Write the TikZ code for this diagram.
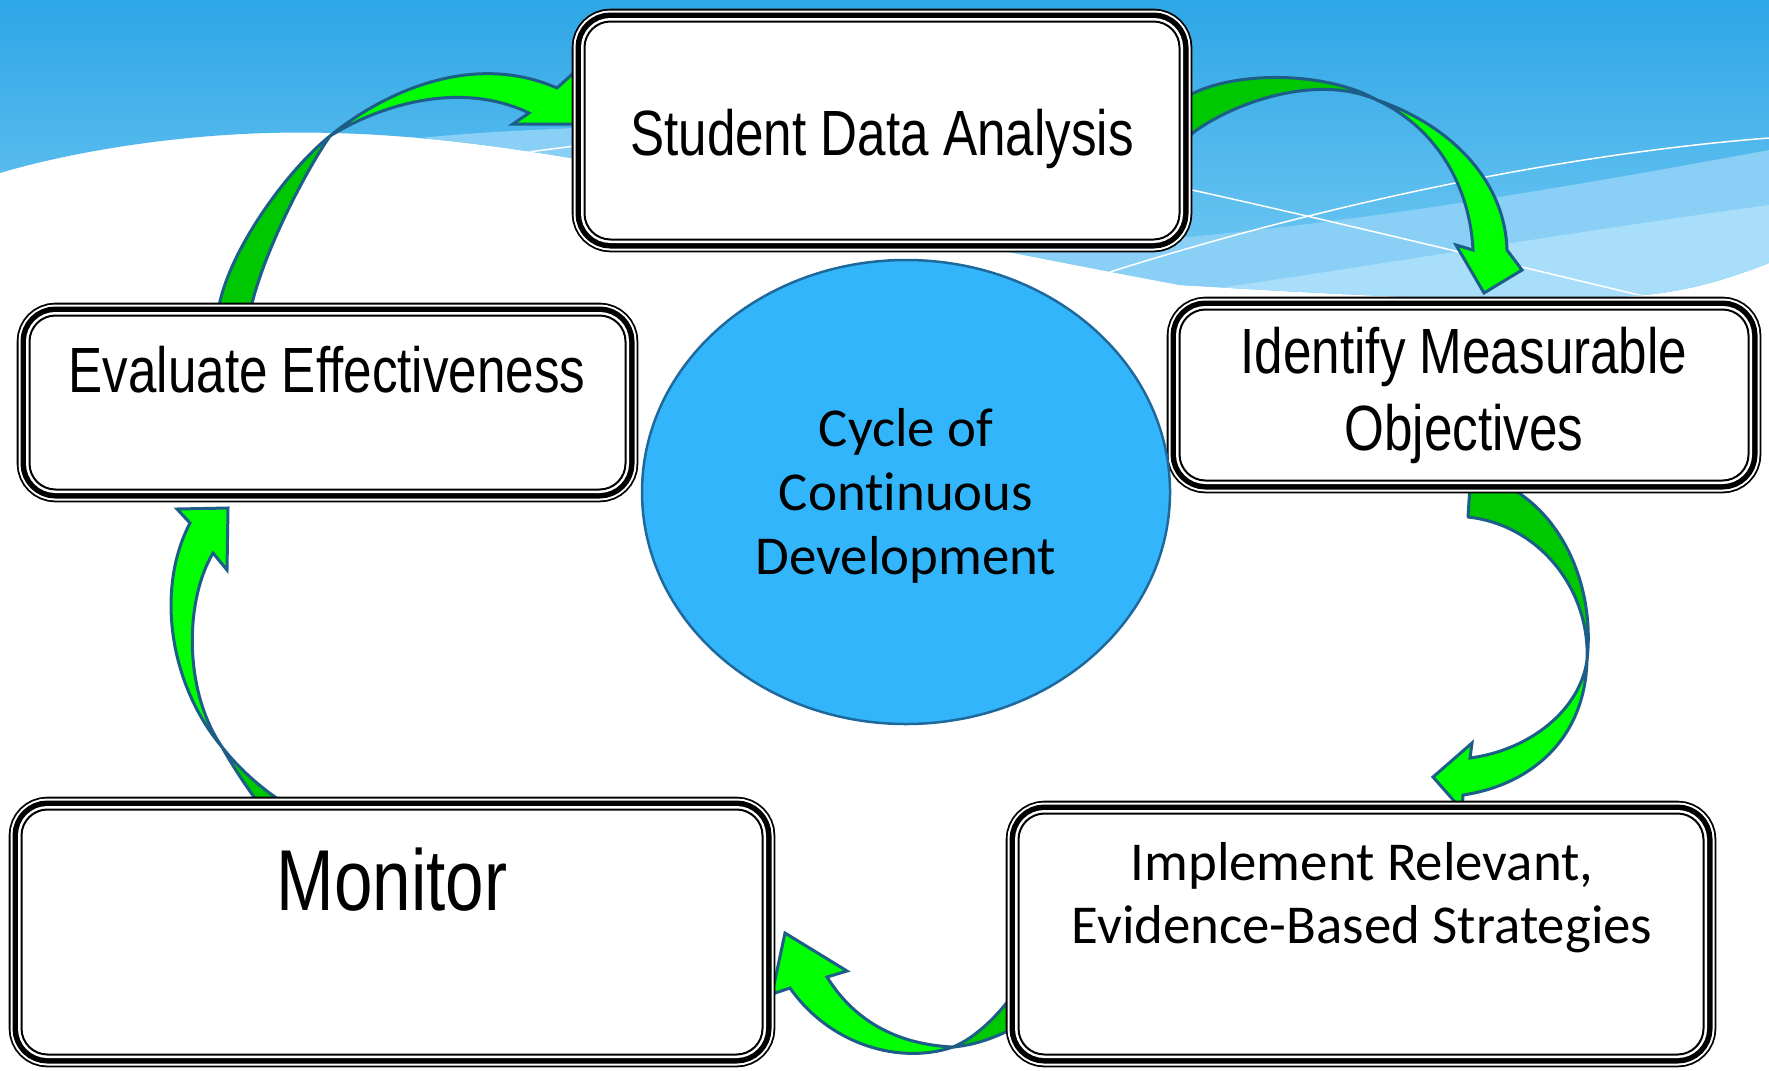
\documentclass[tikz,border=0pt]{standalone}
\usepackage{fontspec}
\newfontfamily\narrowfont{Liberation Sans}[FakeStretch=0.8]
\newfontfamily\softfont{Carlito}[Ligatures=NoCommon]
\usetikzlibrary{shapes.geometric}

\definecolor{skytop}{RGB}{46,166,230}
\definecolor{skybottom}{RGB}{118,203,244}
\definecolor{skypale}{RGB}{138,208,246}
\definecolor{skypaler}{RGB}{168,222,249}
\definecolor{arrowlight}{RGB}{0,255,0}
\definecolor{arrowdark}{RGB}{0,200,0}
\definecolor{arrowedge}{RGB}{28,94,135}
\definecolor{hubfill}{RGB}{51,181,252}
\definecolor{hubedge}{RGB}{30,105,155}

\pgfdeclarelayer{sky}
\pgfdeclarelayer{arrows}
\pgfsetlayers{sky,arrows,main}

% outline of the blue sky band at the top
\newcommand{\skyoutline}{(0,0) -- (1769,0) -- (1769,263)
  .. controls (1720,282) and (1680,293) .. (1630,296)
  .. controls (1500,305) and (1300,292) .. (1180,285)
  .. controls (1100,270) and (1040,258) .. (998,250)
  .. controls (850,215) and (680,175) .. (571,158)
  .. controls (480,143) and (380,130) .. (268,133)
  .. controls (160,136) and (60,155) .. (0,173) -- cycle}

\begin{document}
\begin{tikzpicture}[x=0.1mm,y=-0.1mm]
     % Define styles
     \tikzstyle{stagebox} = [rectangle, rounded corners=2.6mm, fill=white, draw=black,
          line width=0.2mm, inner sep=0pt,
          preaction={draw=black, line width=2.56mm},
          preaction={draw=white, line width=2.2mm},
          preaction={draw=black, line width=1.8mm},
          preaction={draw=white, line width=0.7mm}]
     \tikzstyle{hub} = [ellipse, fill=hubfill, draw=hubedge, line width=0.25mm, inner sep=0pt]
     \tikzstyle{boxtext} = [font=\narrowfont\fontsize{18.2pt}{21.9pt}\selectfont, align=center, inner sep=0pt]
     \tikzstyle{bigtext} = [font=\narrowfont\fontsize{24.6pt}{29pt}\selectfont, inner sep=0pt]
     \tikzstyle{softtext} = [font=\softfont\fontsize{15.6pt}{17.9pt}\selectfont, align=center, inner sep=0pt]
     \tikzstyle{ribbonback} = [fill=arrowdark, draw=arrowedge, line width=0.3mm, line join=round]
     \tikzstyle{ribbonfront} = [fill=arrowlight, draw=arrowedge, line width=0.3mm, line join=miter]

     \useasboundingbox (0,0) rectangle (1769,1070);

     % Stages of the cycle
     \node[stagebox, minimum width=59.5mm, minimum height=21.8mm] (analysis) at (882,130.5) {};
     \node[stagebox, minimum width=56.9mm, minimum height=17.1mm] (objectives) at (1464,395) {};
     \node[stagebox, minimum width=68.5mm, minimum height=24.1mm] (strategies) at (1361,934) {};
     \node[stagebox, minimum width=74.1mm, minimum height=24.5mm] (monitor) at (392,932) {};
     \node[stagebox, minimum width=59.6mm, minimum height=17.4mm] (evaluate) at (327.5,402.5) {};

     % (base of a multi-line text is its last line)
     \node[boxtext, anchor=base] (analysis-text) at (882,155) {Student Data Analysis};
     \node[boxtext, anchor=base] (objectives-text) at (1464,450) {Identify Measurable\\Objectives};
     \node[softtext, anchor=base] (strategies-text) at (1362,943) {Implement Relevant,\\Evidence-Based Strategies};
     \node[bigtext, anchor=base] (monitor-text) at (392,910) {Monitor};
     \node[boxtext, anchor=base] (evaluate-text) at (327,392) {Evaluate Effectiveness};

     % Centre
     \node[hub, minimum width=52.8mm, minimum height=46.4mm] (hub) at (906,492) {};
     \node[softtext, font=\softfont\fontsize{15.6pt}{18.1pt}\selectfont, anchor=base] (hub-text) at (906,574)
          {Cycle of\\Continuous\\Development};

     % Curved arrows (back half, then front half with head)
     \coordinate (twist1) at (330,136);
     \coordinate (twist2) at (1377,100);
     \coordinate (twist3) at (1587,660);
     \coordinate (twist4) at (953,1047);
     \coordinate (twist5) at (222,747);
     \begin{pgfonlayer}{arrows}
          %% evaluate -> analysis
          \draw[ribbonback] (218,312) .. controls (226,255) and (285,172) .. (twist1)
               .. controls (305,172) and (262,255) .. (250,312) -- cycle;
          \draw[ribbonfront] (twist1) .. controls (380,95) and (470,50) .. (557,88) -- (590,58) -- (625,124)
               -- (513,124) -- (529,113) .. controls (460,80) and (380,105) .. (twist1) -- cycle;
          %% analysis -> objectives
          \draw[ribbonback] (1182,100) .. controls (1220,72) and (1320,68) .. (twist2)
               .. controls (1310,70) and (1215,110) .. (1182,142) -- cycle;
          \draw[ribbonfront] (twist2) .. controls (1450,125) and (1505,180) .. (1507,250) -- (1522,270)
               -- (1484,293) -- (1456,245) -- (1473,250) .. controls (1470,190) and (1440,130) .. (twist2) -- cycle;
          %% objectives -> strategies
          \draw[ribbonback] (1470,485) -- (1468,517) .. controls (1540,525) and (1590,590) .. (twist3)
               .. controls (1595,590) and (1565,515) .. (1505,485) -- cycle;
          \draw[ribbonfront] (twist3) .. controls (1585,740) and (1530,785) .. (1463,795) -- (1462,810)
               -- (1433,777) -- (1472,743) -- (1470,758) .. controls (1530,750) and (1580,710) .. (twist3) -- cycle;
          %% strategies -> monitor
          \draw[ribbonback] (1022,982) .. controls (1000,1015) and (975,1038) .. (twist4)
               .. controls (975,1045) and (995,1038) .. (1020,1025) -- cycle;
          \draw[ribbonfront] (twist4) .. controls (900,1065) and (830,1045) .. (790,988) -- (772,994)
               -- (785,933) -- (847,971) -- (827,977) .. controls (860,1030) and (910,1045) .. (twist4) -- cycle;
          %% monitor -> evaluate
          \draw[ribbonback] (262,808) .. controls (245,785) and (232,765) .. (twist5)
               .. controls (240,770) and (265,792) .. (292,808) -- cycle;
          \draw[ribbonfront] (twist5) .. controls (170,685) and (155,590) .. (190,523) -- (177,509)
               -- (228,508) -- (227,570) -- (213,553) .. controls (185,600) and (183,690) .. (twist5) -- cycle;
     \end{pgfonlayer}

     % Sky
     \begin{pgfonlayer}{sky}
          \fill[white] (0,0) rectangle (1769,1070);
          \shade[top color=skytop, bottom color=skybottom] \skyoutline;
          \begin{scope}
               \clip \skyoutline;
               \fill[skypale] (998,250) .. controls (1250,240) and (1500,200) .. (1769,150) -- (1769,400) -- (998,400) -- cycle;
               \fill[skypaler] (1150,298) .. controls (1350,270) and (1550,235) .. (1769,205) -- (1769,400) -- (1150,400) -- cycle;
               \fill[skypale] (420,138) .. controls (480,132) and (530,130) .. (575,128) -- (575,200) -- (420,200) -- cycle;
               \draw[white, line width=0.15mm] (1192,190) .. controls (1350,225) and (1500,262) .. (1660,300);
               \draw[white, line width=0.15mm] (1085,280) .. controls (1300,210) and (1550,155) .. (1769,138);
               \draw[white, line width=0.15mm] (520,153) -- (575,146);
          \end{scope}
     \end{pgfonlayer}
\end{tikzpicture}
\end{document}
